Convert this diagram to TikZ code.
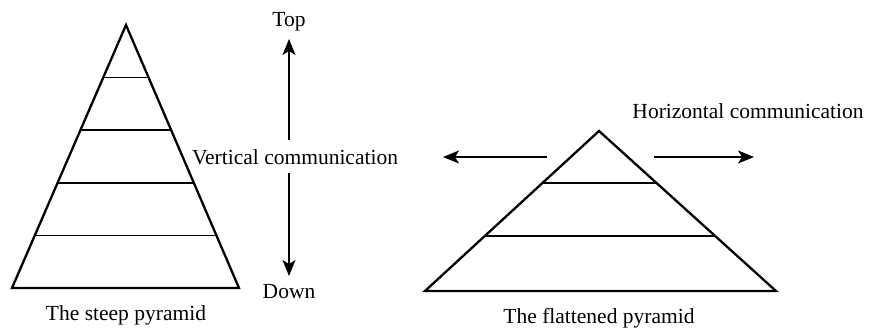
\documentclass[tikz,border=0pt]{standalone}
\usepackage{fontspec}
\setmainfont{Liberation Serif}
\usetikzlibrary{calc,arrows.meta}
\begin{document}
\begin{tikzpicture}[x=1pt,y=-1pt,
  pyr/.style={line width=2.3pt,line join=miter},
  tier/.style={line width=1.8pt},
  flow/.style={line width=1.6pt,-{Stealth[length=16pt,width=13pt,inset=4pt]}},
  lbl/.style={inner sep=0pt,font=\fontsize{21.5}{23}\selectfont}]
\useasboundingbox (0,0) rectangle (872,331);

% steep pyramid
\coordinate (sA) at (126,25);
\coordinate (sL) at (12,288);
\coordinate (sR) at (239,288);
\draw[pyr] (sA) -- (sL) -- (sR) -- cycle;
\foreach \t in {0.2,0.4,0.6,0.8}
  \draw[tier] ($(sA)!\t!(sL)$) -- ($(sA)!\t!(sR)$);
\node[lbl] (steep) at (126,315) {The steep pyramid};

% vertical communication
\node[lbl] (top) at (289,22) {Top};
\node[lbl] (vert) at (295,157) {Vertical communication};
\node[lbl] (down) at (289,292) {Down};
\coordinate (vup) at (289,140);
\coordinate (vdn) at (289,173);
\coordinate (vtop) at (289,39);
\coordinate (vbot) at (289,276);
\draw[flow] (vup) -- (vtop);
\draw[flow] (vdn) -- (vbot);

% flattened pyramid
\coordinate (fA) at (599,131);
\coordinate (fL) at (425,291);
\coordinate (fR) at (776,291);
\draw[pyr] (fA) -- (fL) -- (fR) -- cycle;
\foreach \t in {0.327,0.658}
  \draw[tier] ($(fA)!\t!(fL)$) -- ($(fA)!\t!(fR)$);
\node[lbl] (flat) at (599,318) {The flattened pyramid};

% horizontal communication
\node[lbl] (horiz) at (748,111) {Horizontal communication};
\coordinate (hl0) at (547,157);
\coordinate (hl1) at (443,157);
\coordinate (hr0) at (654,157);
\coordinate (hr1) at (754,157);
\draw[flow] (hl0) -- (hl1);
\draw[flow] (hr0) -- (hr1);
\end{tikzpicture}
\end{document}
